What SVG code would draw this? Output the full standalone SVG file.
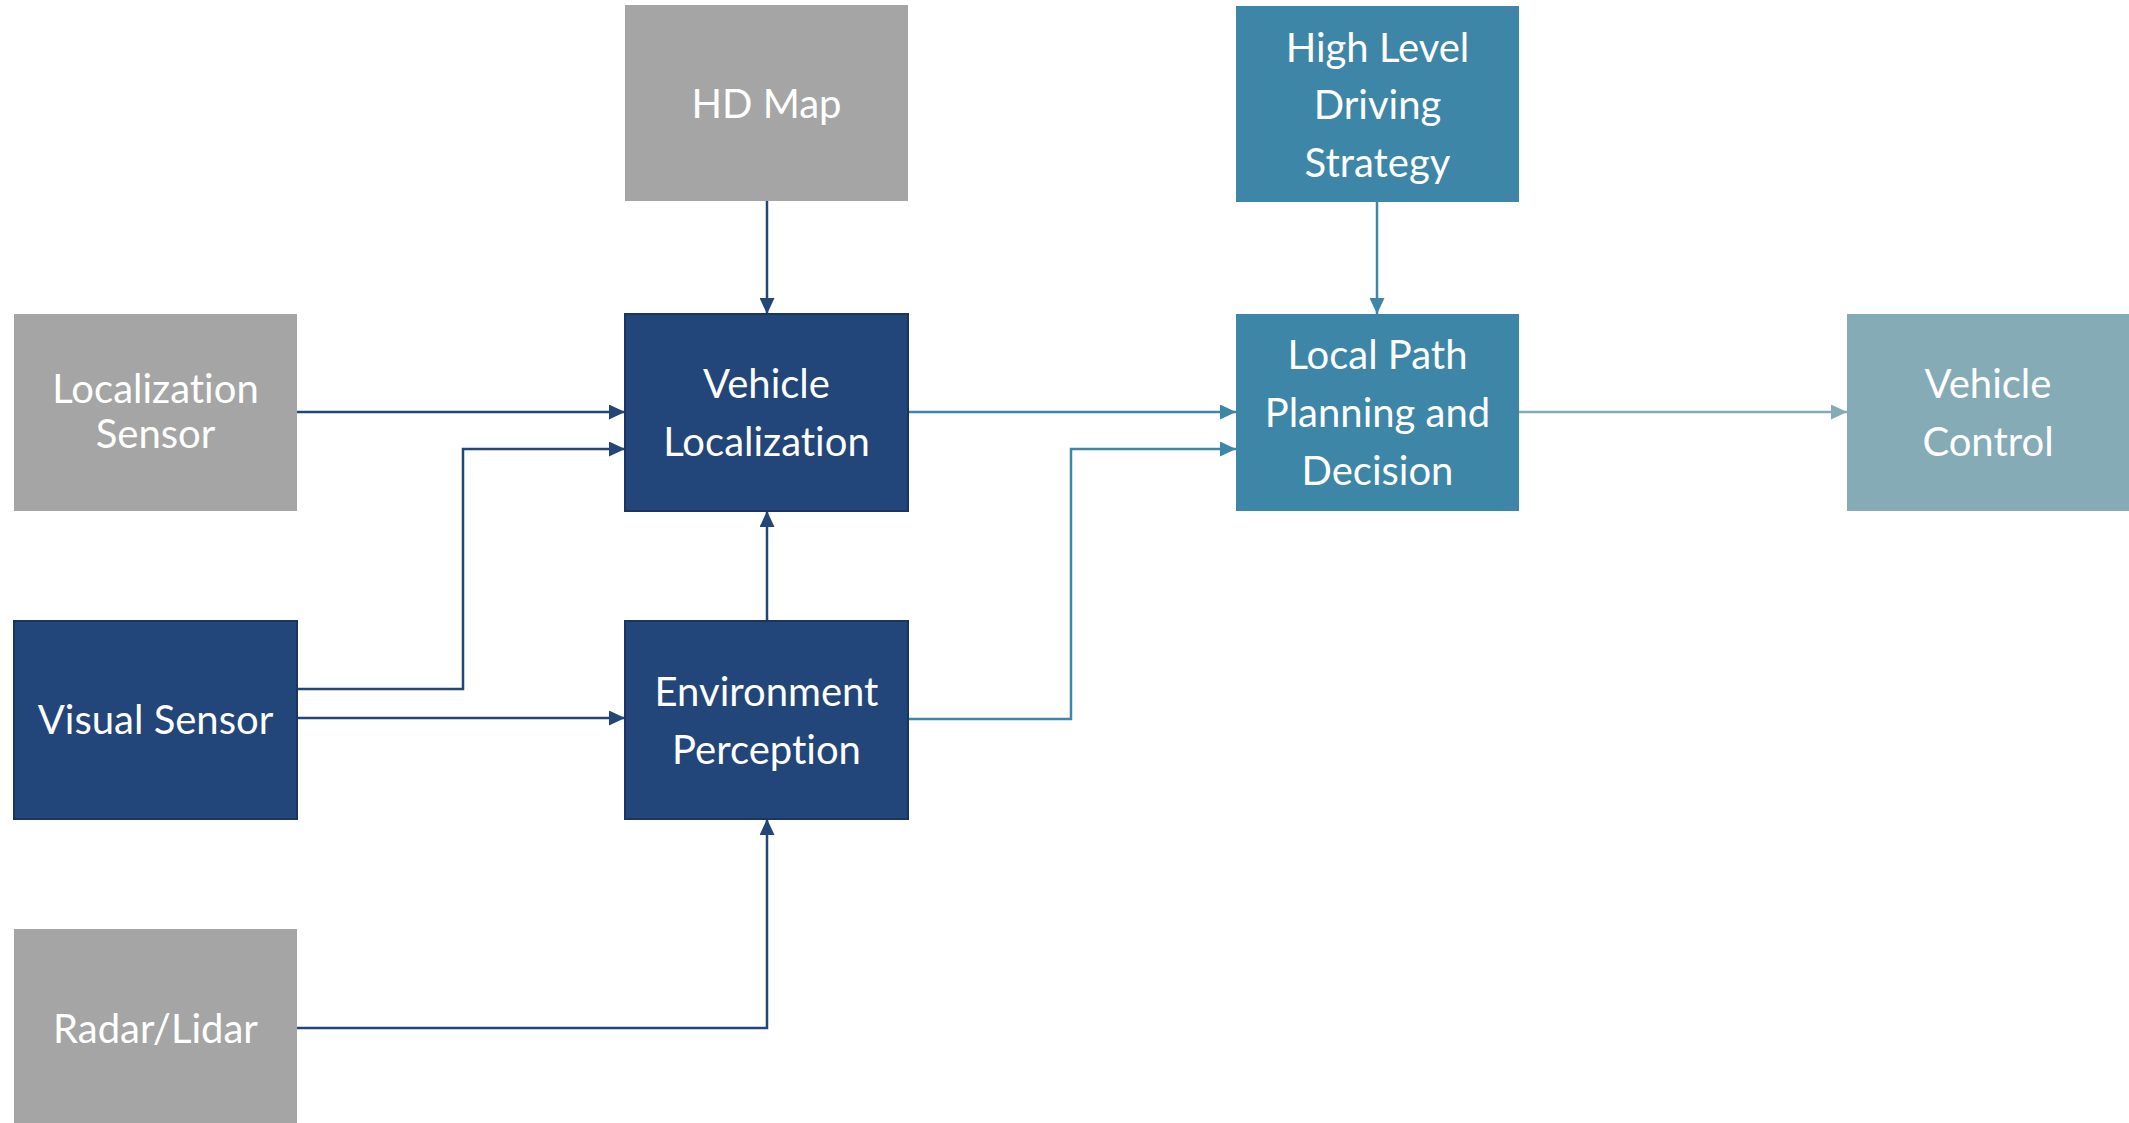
<svg xmlns="http://www.w3.org/2000/svg" width="2129" height="1123" viewBox="0 0 2129 1123">
  <style>
    .gray { fill: #A5A5A5; }
    .navy { fill: #22467A; stroke: #1B355F; stroke-width: 2; }
    .teal { fill: #3D86A7; }
    .pale { fill: #84ABB6; }
    .label { fill: #FFFFFF; font-family: Lato, "Open Sans", "Noto Sans", sans-serif; font-size: 40px; text-anchor: middle; font-variant-ligatures: none; font-feature-settings: "liga" 0; }
    .wire { fill: none; stroke-width: 2.5; }
    .w-navy { stroke: #234679; marker-end: url(#head-navy); }
    .w-teal { stroke: #3E86A7; marker-end: url(#head-teal); }
    .w-pale { stroke: #84ABB6; marker-end: url(#head-pale); }
  </style>
  <defs>
    <marker id="head-navy" markerUnits="userSpaceOnUse" markerWidth="16" markerHeight="15" refX="16" refY="7.5" orient="auto">
      <path d="M0,0 L16,7.5 L0,15 z" fill="#234679"/>
    </marker>
    <marker id="head-teal" markerUnits="userSpaceOnUse" markerWidth="16" markerHeight="15" refX="16" refY="7.5" orient="auto">
      <path d="M0,0 L16,7.5 L0,15 z" fill="#3E86A7"/>
    </marker>
    <marker id="head-pale" markerUnits="userSpaceOnUse" markerWidth="16" markerHeight="15" refX="16" refY="7.5" orient="auto">
      <path d="M0,0 L16,7.5 L0,15 z" fill="#84ABB6"/>
    </marker>
  </defs>

  <rect width="2129" height="1123" fill="#FFFFFF"/>

  <g id="connectors">
    <path class="wire w-navy" d="M767,201 V314"/>
    <path class="wire w-navy" d="M297,412 H625"/>
    <path class="wire w-navy" d="M297,689 H463 V449 H625"/>
    <path class="wire w-navy" d="M297,718 H625"/>
    <path class="wire w-navy" d="M767,621 V511"/>
    <path class="wire w-navy" d="M297,1028 H767 V819"/>
    <path class="wire w-teal" d="M908,412 H1236"/>
    <path class="wire w-teal" d="M908,719 H1071 V449 H1236"/>
    <path class="wire w-teal" d="M1377,202 V314"/>
    <path class="wire w-pale" d="M1519,412 H1847"/>
  </g>

  <g id="hd-map">
    <rect class="gray" x="625" y="5" width="283" height="196"/>
    <text class="label" x="766.5" y="118">HD Map</text>
  </g>

  <g id="high-level-driving-strategy">
    <rect class="teal" x="1236" y="6" width="283" height="196"/>
    <text class="label" x="1377.5" y="62">High Level</text>
    <text class="label" x="1377.5" y="119">Driving</text>
    <text class="label" x="1377.5" y="177">Strategy</text>
  </g>

  <g id="localization-sensor">
    <rect class="gray" x="14" y="314" width="283" height="197"/>
    <text class="label" x="155.5" y="403">Localization</text>
    <text class="label" x="155.5" y="448">Sensor</text>
  </g>

  <g id="vehicle-localization">
    <rect class="navy" x="625" y="314" width="283" height="197"/>
    <text class="label" x="766.5" y="398">Vehicle</text>
    <text class="label" x="766.5" y="456">Localization</text>
  </g>

  <g id="local-path-planning">
    <rect class="teal" x="1236" y="314" width="283" height="197"/>
    <text class="label" x="1377.5" y="369">Local Path</text>
    <text class="label" x="1377.5" y="427">Planning and</text>
    <text class="label" x="1377.5" y="485">Decision</text>
  </g>

  <g id="vehicle-control">
    <rect class="pale" x="1847" y="314" width="283" height="197"/>
    <text class="label" x="1988" y="398">Vehicle</text>
    <text class="label" x="1988" y="456">Control</text>
  </g>

  <g id="visual-sensor">
    <rect class="navy" x="14" y="621" width="283" height="198"/>
    <text class="label" x="155.5" y="734">Visual Sensor</text>
  </g>

  <g id="environment-perception">
    <rect class="navy" x="625" y="621" width="283" height="198"/>
    <text class="label" x="766.5" y="706">Environment</text>
    <text class="label" x="766.5" y="764">Perception</text>
  </g>

  <g id="radar-lidar">
    <rect class="gray" x="14" y="929" width="283" height="200"/>
    <text class="label" x="155.5" y="1043">Radar/Lidar</text>
  </g>
</svg>
